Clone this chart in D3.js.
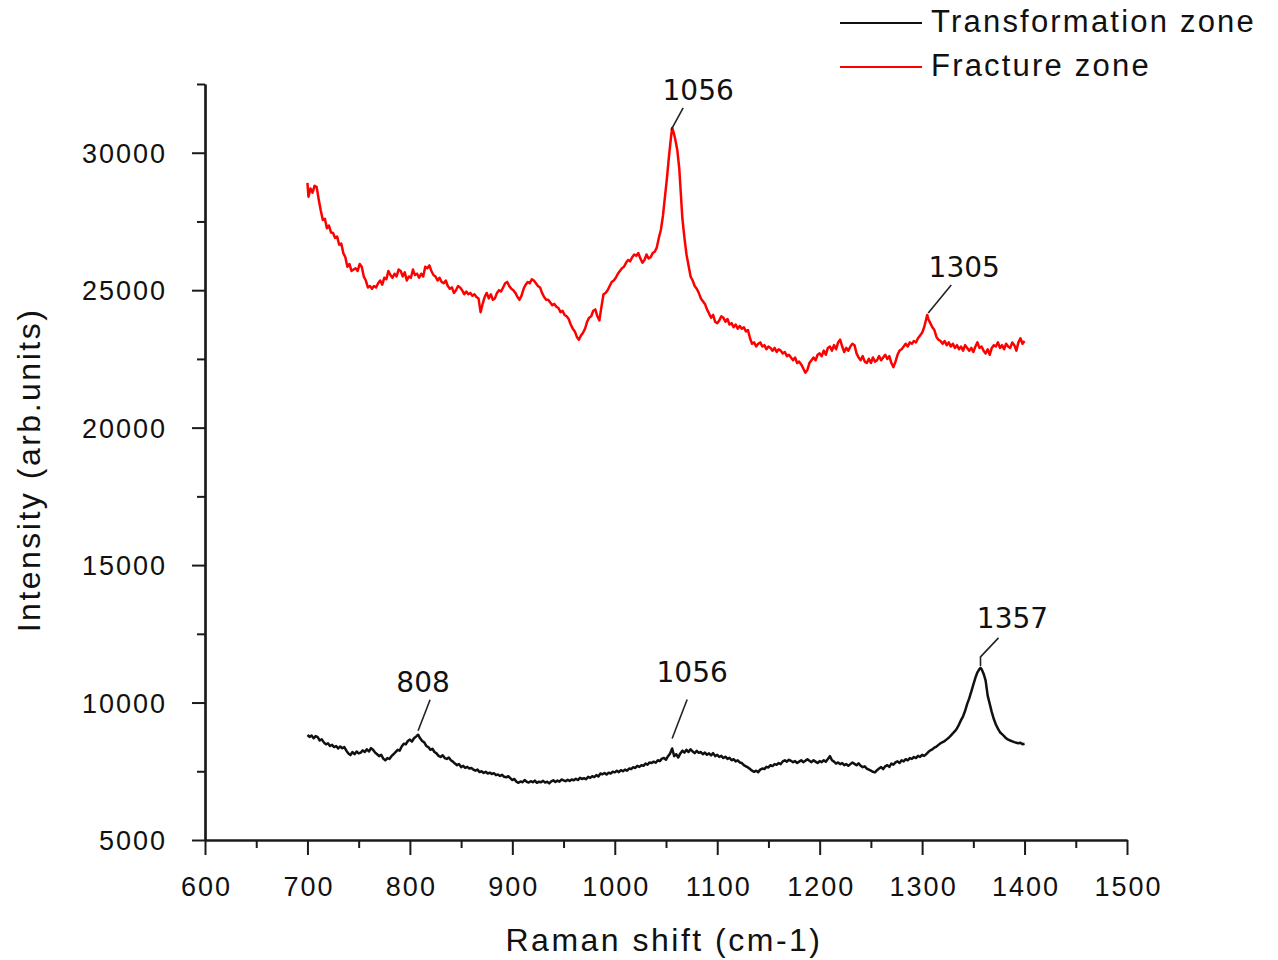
<!DOCTYPE html>
<html>
<head>
<meta charset="utf-8">
<script src="https://cdn.jsdelivr.net/npm/d3@7"></script>
<style>
  html, body { margin: 0; padding: 0; background: #fff; }
  svg { display: block; }
  .tick text { font-family: "Liberation Sans", Arial, sans-serif; font-size: 27px; letter-spacing: 2px; fill: #111; }
  .title { font-family: "Liberation Sans", Arial, sans-serif; font-size: 32px; letter-spacing: 2.5px; fill: #111; }
  .legend-text { font-family: "Liberation Sans", Arial, sans-serif; font-size: 31px; letter-spacing: 2.2px; fill: #111; }
  .peak-text { font-family: "DejaVu Sans", Verdana, sans-serif; font-size: 28px; fill: #111; }
</style>
</head>
<body>
<svg id="chart" width="1278" height="960"></svg>
<script>
// Raman spectra: [Raman shift (cm-1), intensity (arb. units)]
const fractureZone = [
  [700,28900],[701,28400],[703,28700],[705,28550],[707,28800],[709,28750],[711,28300],[713,27900],[715,27550],[717,27600],
  [719,27250],[721,27350],[723,27100],[725,27080],[727,26900],[729,26950],[731,26650],[733,26700],[735,26350],[737,26200],
  [739,25850],[741,25950],[743,25700],[745,25750],[747,25800],[749,25700],[751,25950],[753,25850],[755,25500],[757,25350],
  [759,25100],[761,25150],[763,25050],[765,25150],[767,25100],[769,25250],[771,25350],[773,25200],[775,25450],[777,25400],
  [779,25700],[781,25550],[783,25450],[785,25600],[787,25500],[789,25750],[791,25700],[793,25500],[795,25650],[797,25350],
  [799,25500],[801,25450],[803,25750],[805,25550],[807,25600],[809,25450],[811,25600],[813,25500],[815,25850],[817,25800],
  [819,25900],[821,25700],[823,25550],[825,25500],[827,25350],[829,25450],[831,25300],[833,25250],[835,25350],[837,25150],
  [839,25050],[841,25100],[843,24900],[845,25000],[847,25150],[849,25100],[851,25000],[853,24850],[855,24950],[857,24850],
  [859,24900],[861,24800],[863,24850],[865,24750],[867,24700],[869,24200],[871,24500],[873,24750],[875,24900],[877,24700],
  [879,24850],[881,24650],[883,24700],[885,24900],[887,25000],[889,24950],[891,25100],[893,25250],[895,25300],[897,25150],
  [899,25050],[901,25000],[903,24900],[905,24750],[907,24650],[909,24800],[911,25050],[913,25200],[915,25300],[917,25250],
  [919,25400],[921,25350],[923,25250],[925,25150],[927,25100],[929,24900],[931,24750],[933,24650],[935,24650],[937,24550],
  [939,24450],[941,24500],[943,24400],[945,24350],[947,24200],[949,24250],[951,24100],[953,24050],[955,23950],[957,23750],
  [959,23600],[961,23500],[963,23300],[965,23200],[967,23350],[969,23450],[971,23600],[973,23850],[975,24000],[977,24050],
  [979,24250],[981,24300],[983,24050],[985,23900],[987,24400],[989,24850],[991,24900],[993,25000],[995,25150],[997,25300],
  [999,25350],[1001,25450],[1003,25600],[1005,25700],[1007,25800],[1009,25850],[1011,26000],[1013,26100],[1015,26050],[1017,26200],
  [1019,26300],[1021,26250],[1023,26350],[1025,26150],[1027,26000],[1029,26100],[1031,26300],[1033,26150],[1035,26200],[1037,26350],
  [1039,26400],[1041,26550],[1043,26900],[1045,27200],[1047,27700],[1049,28400],[1051,29100],[1053,29900],[1055,30600],[1056,30900],
  [1057,30800],[1059,30500],[1061,30100],[1063,29400],[1065,28200],[1066,27600],[1068,26900],[1070,26300],[1072,25900],[1074,25500],
  [1076,25350],[1078,25150],[1080,25050],[1082,24900],[1084,24700],[1086,24600],[1088,24500],[1090,24300],[1092,24150],[1094,24000],
  [1096,24100],[1098,23850],[1100,23800],[1102,23900],[1104,24050],[1106,24000],[1108,23850],[1110,23950],[1112,23750],[1114,23800],
  [1116,23650],[1118,23750],[1120,23600],[1122,23700],[1124,23600],[1126,23650],[1128,23500],[1130,23550],[1132,23250],[1134,23050],
  [1136,23100],[1138,22950],[1140,23050],[1142,23100],[1144,22950],[1146,23000],[1148,22850],[1150,22950],[1152,22900],[1154,22800],
  [1156,22900],[1158,22750],[1160,22850],[1162,22800],[1164,22700],[1166,22750],[1168,22600],[1170,22650],[1172,22550],[1174,22450],
  [1176,22550],[1178,22350],[1180,22400],[1182,22300],[1184,22150],[1186,22000],[1188,22100],[1190,22350],[1192,22450],[1194,22550],
  [1196,22450],[1198,22650],[1200,22700],[1202,22600],[1204,22800],[1206,22650],[1208,22900],[1210,22950],[1212,22800],[1214,23000],
  [1216,22850],[1218,23100],[1220,23200],[1222,22950],[1224,22750],[1226,22900],[1228,22800],[1230,22950],[1232,23050],[1234,23000],
  [1236,22700],[1238,22550],[1240,22450],[1242,22600],[1244,22400],[1246,22350],[1248,22500],[1250,22350],[1252,22550],[1254,22400],
  [1256,22450],[1258,22600],[1260,22450],[1262,22550],[1264,22650],[1266,22500],[1268,22600],[1270,22350],[1272,22200],[1274,22400],
  [1276,22650],[1278,22800],[1280,22850],[1282,22950],[1284,23050],[1286,22950],[1288,23100],[1290,23050],[1292,23150],[1294,23100],
  [1296,23250],[1298,23350],[1300,23450],[1302,23650],[1304,23950],[1305,24100],[1306,23950],[1308,23800],[1310,23650],[1312,23550],
  [1314,23300],[1316,23200],[1318,23150],[1320,23050],[1322,23150],[1324,23000],[1326,23100],[1328,22950],[1330,23050],[1332,22900],
  [1334,23000],[1336,22850],[1338,22950],[1340,22800],[1342,23000],[1344,22900],[1346,22800],[1348,22900],[1350,22750],[1352,22950],
  [1354,23100],[1356,22900],[1358,22950],[1360,22800],[1362,22700],[1364,22850],[1366,22650],[1368,22900],[1370,23000],[1372,22950],
  [1374,23100],[1376,22900],[1378,23000],[1380,22850],[1382,23050],[1384,22950],[1386,22900],[1388,23100],[1390,23000],[1392,22800],
  [1394,23100],[1396,23250],[1398,23050],[1400,23150]
];

const transformationZone = [
  [700,8820],[702,8750],[704,8800],[706,8700],[708,8780],[710,8740],[712,8620],[714,8660],[716,8550],[718,8480],
  [720,8520],[722,8420],[724,8460],[726,8380],[728,8420],[730,8330],[732,8400],[734,8340],[736,8380],[738,8250],
  [740,8150],[742,8090],[744,8200],[746,8120],[748,8220],[750,8150],[752,8180],[754,8260],[756,8200],[758,8300],
  [760,8220],[762,8340],[764,8280],[766,8180],[768,8120],[770,8050],[772,8100],[774,7960],[776,7900],[778,7980],
  [780,7950],[782,8050],[784,8120],[786,8200],[788,8280],[790,8250],[792,8400],[794,8500],[796,8480],[798,8600],
  [800,8650],[802,8580],[804,8700],[806,8760],[808,8830],[810,8700],[812,8600],[814,8550],[816,8420],[818,8380],
  [820,8280],[822,8320],[824,8200],[826,8150],[828,8060],[830,8020],[832,8080],[834,7980],[836,7950],[838,8000],
  [840,7900],[842,7850],[844,7780],[846,7720],[848,7760],[850,7650],[852,7700],[854,7620],[856,7660],[858,7600],
  [860,7620],[862,7560],[864,7520],[866,7560],[868,7470],[870,7500],[872,7440],[874,7480],[876,7420],[878,7450],
  [880,7400],[882,7430],[884,7360],[886,7380],[888,7330],[890,7370],[892,7300],[894,7280],[896,7320],[898,7250],
  [900,7180],[902,7220],[904,7120],[906,7080],[908,7130],[910,7100],[912,7180],[914,7120],[916,7090],[918,7140],
  [920,7100],[922,7160],[924,7080],[926,7120],[928,7100],[930,7150],[932,7090],[934,7120],[936,7060],[938,7130],
  [940,7170],[942,7110],[944,7160],[946,7120],[948,7200],[950,7170],[952,7140],[954,7190],[956,7150],[958,7200],
  [960,7170],[962,7230],[964,7180],[966,7260],[968,7220],[970,7250],[972,7210],[974,7300],[976,7260],[978,7320],
  [980,7290],[982,7360],[984,7310],[986,7420],[988,7390],[990,7440],[992,7380],[994,7450],[996,7420],[998,7480],
  [1000,7460],[1002,7520],[1004,7470],[1006,7540],[1008,7500],[1010,7560],[1012,7520],[1014,7600],[1016,7580],[1018,7650],
  [1020,7620],[1022,7700],[1024,7660],[1026,7720],[1028,7700],[1030,7780],[1032,7740],[1034,7820],[1036,7800],[1038,7850],
  [1040,7810],[1042,7900],[1044,7870],[1046,7960],[1048,7980],[1050,7920],[1052,8050],[1054,8150],[1056,8330],[1058,8050],
  [1060,8120],[1062,8000],[1064,8150],[1066,8250],[1068,8180],[1070,8280],[1072,8200],[1074,8300],[1076,8220],[1078,8160],
  [1080,8240],[1082,8170],[1084,8200],[1086,8120],[1088,8180],[1090,8100],[1092,8150],[1094,8080],[1096,8160],[1098,8050],
  [1100,8100],[1102,8020],[1104,8060],[1106,7980],[1108,8030],[1110,7950],[1112,7990],[1114,7900],[1116,7940],[1118,7860],
  [1120,7900],[1122,7820],[1124,7800],[1126,7720],[1128,7680],[1130,7640],[1132,7580],[1134,7520],[1136,7480],[1138,7520],
  [1140,7470],[1142,7560],[1144,7600],[1146,7580],[1148,7660],[1150,7640],[1152,7720],[1154,7690],[1156,7760],[1158,7740],
  [1160,7800],[1162,7760],[1164,7860],[1166,7900],[1168,7850],[1170,7920],[1172,7880],[1174,7830],[1176,7870],[1178,7800],
  [1180,7850],[1182,7900],[1184,7830],[1186,7880],[1188,7940],[1190,7880],[1192,7830],[1194,7900],[1196,7850],[1198,7800],
  [1200,7870],[1202,7830],[1204,7900],[1206,7850],[1208,7950],[1210,8050],[1212,7900],[1214,7850],[1216,7780],[1218,7820],
  [1220,7760],[1222,7800],[1224,7720],[1226,7760],[1228,7700],[1230,7760],[1232,7820],[1234,7770],[1236,7720],[1238,7790],
  [1240,7700],[1242,7650],[1244,7680],[1246,7600],[1248,7560],[1250,7520],[1252,7480],[1254,7460],[1256,7540],[1258,7600],
  [1260,7650],[1262,7580],[1264,7680],[1266,7720],[1268,7660],[1270,7780],[1272,7740],[1274,7820],[1276,7860],[1278,7800],
  [1280,7900],[1282,7860],[1284,7940],[1286,7900],[1288,7980],[1290,7950],[1292,8020],[1294,7980],[1296,8060],[1298,8020],
  [1300,8100],[1302,8060],[1304,8120],[1306,8200],[1308,8260],[1310,8300],[1312,8360],[1314,8400],[1316,8460],[1318,8520],
  [1320,8560],[1322,8600],[1324,8660],[1326,8720],[1328,8800],[1330,8880],[1332,8960],[1334,9060],[1336,9200],[1338,9360],
  [1340,9500],[1342,9700],[1344,9950],[1346,10150],[1348,10400],[1350,10650],[1352,10900],[1354,11100],[1356,11220],[1357,11260],
  [1358,11220],[1360,11050],[1362,10800],[1364,10250],[1366,9950],[1368,9650],[1370,9400],[1372,9200],[1374,9050],[1376,8920],
  [1378,8850],[1380,8780],[1382,8700],[1384,8650],[1386,8620],[1388,8590],[1390,8560],[1392,8540],[1394,8520],[1396,8540],
  [1398,8480],[1400,8500]
];

// Axis ticks
const xMajorTicks = [600, 700, 800, 900, 1000, 1100, 1200, 1300, 1400, 1500];
const xMinorTicks = [650, 750, 850, 950, 1050, 1150, 1250, 1350, 1450];
const yMajorTicks = [5000, 10000, 15000, 20000, 25000, 30000];
const yMinorTicks = [7500, 12500, 17500, 22500, 27500, 32500];

// Series names, colours and annotated peak positions
const seriesNames = ["Transformation zone", "Fracture zone"];
const seriesColors = ["#111111", "#ff0000"];
const fracturePeaks = [1056, 1305];
const transformationPeaks = [808, 1056, 1357];

const svg = d3.select("#chart");
svg.append("rect").attr("width", 1278).attr("height", 960).attr("fill", "#fff");

const x = d3.scaleLinear().domain([600, 1500]).range([205, 1127]);
const y = d3.scaleLinear().domain([5000, 32500]).range([840, 84]);

const axisColor = "#1a1a1a";

function styleAxis(g) {
  g.selectAll(".domain").attr("stroke", axisColor).attr("stroke-width", 2.2);
  g.selectAll(".tick line").attr("stroke", axisColor).attr("stroke-width", 2);
}

// X axis: minor then major ticks
svg.append("g").attr("transform", "translate(0,840)")
  .call(d3.axisBottom(x).tickValues(xMinorTicks).tickSize(8).tickSizeOuter(0).tickFormat(""))
  .call(styleAxis);
const gx = svg.append("g").attr("transform", "translate(0,840)")
  .call(d3.axisBottom(x).tickValues(xMajorTicks).tickSize(15).tickSizeOuter(0).tickFormat(d3.format("d")).tickPadding(22))
  .call(styleAxis);
gx.selectAll(".tick text").attr("dy", "0.71em").attr("dx", "1px");

// Y axis: minor then major ticks
svg.append("g").attr("transform", "translate(205,0)")
  .call(d3.axisLeft(y).tickValues(yMinorTicks).tickSize(8).tickSizeOuter(0).tickFormat(""))
  .call(styleAxis);
const gy = svg.append("g").attr("transform", "translate(205,0)")
  .call(d3.axisLeft(y).tickValues(yMajorTicks).tickSize(13).tickSizeOuter(0).tickFormat(d3.format("d")).tickPadding(25))
  .call(styleAxis);
gy.selectAll(".tick text").attr("dy", "0.36em");

// Axis titles
svg.append("text").attr("class", "title")
  .attr("x", 664).attr("y", 951).attr("text-anchor", "middle")
  .text("Raman shift (cm-1)");
svg.append("text").attr("class", "title")
  .attr("transform", "translate(40,470) rotate(-90)").attr("text-anchor", "middle")
  .text("Intensity (arb.units)");

// Spectra
const line = d3.line().x(d => x(d[0])).y(d => y(d[1]));
const series = [transformationZone, fractureZone];
svg.selectAll("path.spectrum").data(series).join("path")
  .attr("class", "spectrum")
  .attr("d", line)
  .attr("fill", "none")
  .attr("stroke", (d, i) => seriesColors[i])
  .attr("stroke-width", 2.5)
  .attr("stroke-linejoin", "round");

// Peak annotations: label and leader line offsets relative to the peak point
const annotationLayout = {
  "fracture-1056": { lead: [[-1, 2], [11, -20]], text: [26, -28] },
  "fracture-1305": { lead: [[1, -2], [24, -30]], text: [37, -38] },
  "transformation-808": { lead: [[0, -4], [12, -35]], text: [5, -43] },
  "transformation-1056": { lead: [[0, -10], [15, -49]], text: [20, -66] },
  "transformation-1357": { lead: [[0, -2], [0, -11], [18, -30]], text: [32, -40] }
};

function peakPoint(data, shift) {
  return data.find(d => d[0] === shift);
}

const annotations = [
  ...fracturePeaks.map(p => ({ key: "fracture-" + p, point: peakPoint(fractureZone, p) })),
  ...transformationPeaks.map(p => ({ key: "transformation-" + p, point: peakPoint(transformationZone, p) }))
];

const gAnn = svg.append("g");
annotations.forEach(a => {
  const px = x(a.point[0]), py = y(a.point[1]);
  const lay = annotationLayout[a.key];
  gAnn.append("path")
    .attr("d", d3.line()(lay.lead.map(o => [px + o[0], py + o[1]])))
    .attr("fill", "none").attr("stroke", "#222").attr("stroke-width", 1.6);
  gAnn.append("text").attr("class", "peak-text")
    .attr("x", px + lay.text[0]).attr("y", py + lay.text[1])
    .attr("text-anchor", "middle")
    .text(d3.format("d")(a.point[0]));
});

// Legend
const legend = svg.append("g");
seriesNames.forEach((name, i) => {
  const ly = [23, 67][i];
  legend.append("line").attr("x1", 840).attr("x2", 922).attr("y1", ly).attr("y2", ly)
    .attr("stroke", seriesColors[i]).attr("stroke-width", 2.2);
  legend.append("text").attr("class", "legend-text")
    .attr("x", 931).attr("y", ly + 9)
    .text(name);
});
</script>
</body>
</html>
